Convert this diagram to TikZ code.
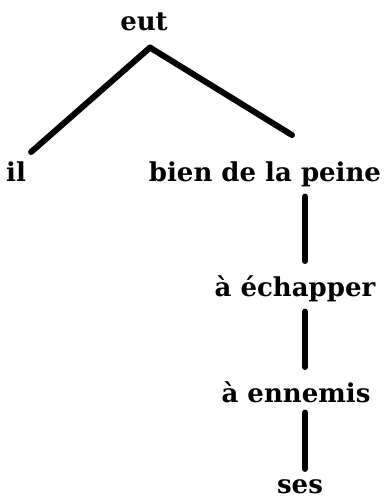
\documentclass[tikz,border=0pt]{standalone}
\usepackage{fontspec}
\setmainfont{DejaVu Serif}
\begin{document}
\begin{tikzpicture}[x=1pt,y=1pt,
  word/.style={inner sep=0pt,anchor=base,font=\fontsize{26}{30}\selectfont\bfseries},
  edge/.style={line width=6pt,line cap=round,black}]
\useasboundingbox (0,0) rectangle (387,501);
\coordinate (spine) at (305,0);
\node[word] (eut) at (144,470) {eut};
\node[word] (il) at (16,319) {il};
\node[word] (bien) at (265,319) {bien de la peine};
\node[word] (echap) at (295,204) {à échapper};
\node[word] (enn) at (296,98) {à ennemis};
\node[word] (ses) at (300,7) {ses};
\draw[edge] ([shift={(6,-16)}]eut.south) -- ([shift={(5,10)}]il.north east);
\draw[edge] ([shift={(6,-16)}]eut.south) -- ([shift={(27,27)}]bien.north);
\draw[edge] ([yshift=-9pt]bien.south -| spine) -- ([yshift=15pt]echap.north -| spine);
\draw[edge] ([yshift=-9pt]echap.south -| spine) -- ([yshift=15pt]enn.north -| spine);
\draw[edge] ([yshift=-9pt]enn.south -| spine) -- ([yshift=11pt]ses.north -| spine);
\end{tikzpicture}
\end{document}
